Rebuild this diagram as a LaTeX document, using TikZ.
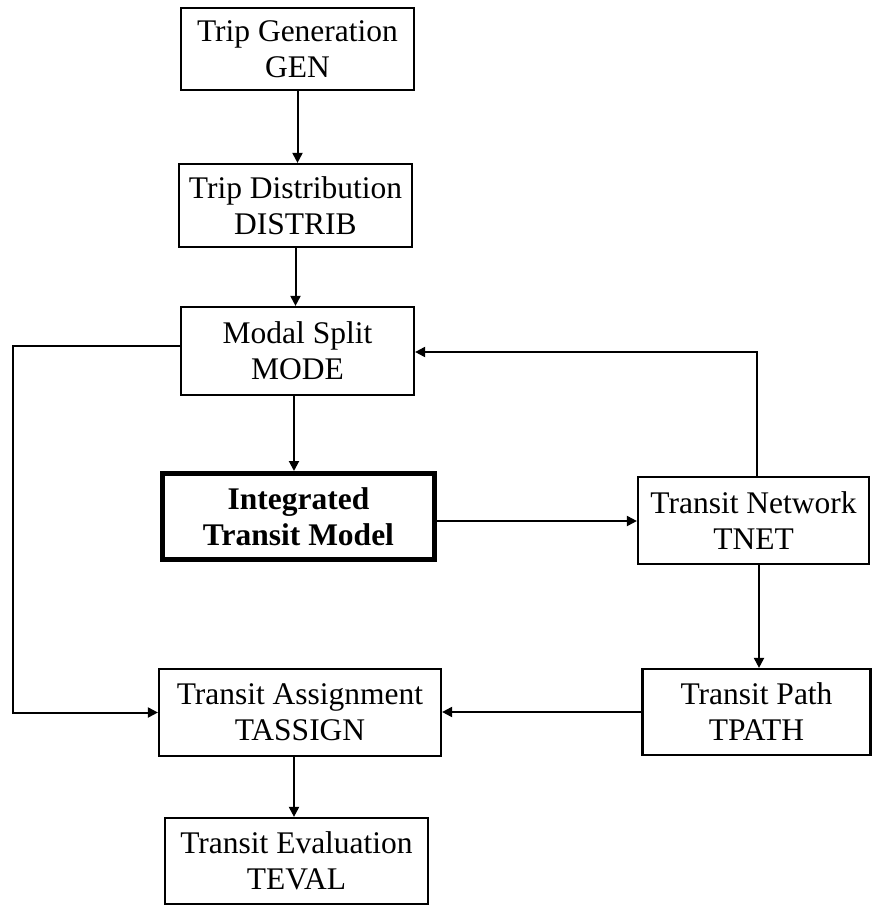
\documentclass[tikz,border=0pt]{standalone}
\usepackage{fontspec}
\setmainfont{Liberation Serif}
\usetikzlibrary{arrows.meta}
\begin{document}
\begin{tikzpicture}[x=1pt,y=1pt,
  box/.style={draw, line width=2.2pt, inner sep=0pt, align=center,
    font=\fontsize{31.5}{36}\selectfont},
  thickbox/.style={box, line width=5pt, font=\fontsize{31.5}{36}\selectfont\bfseries},
  arr/.style={line width=2pt, -{Triangle[length=10pt,width=10pt]}}]
\useasboundingbox (0,0) rectangle (872,-906);
\node[box, minimum width=233pt, minimum height=82pt] (gen) at (297.5,-49) {Trip Generation\\GEN};
\node[box, minimum width=233pt, minimum height=83pt] (dist) at (295.5,-205.5) {Trip Distribution\\DISTRIB};
\node[box, minimum width=233pt, minimum height=88pt] (mode) at (297.5,-351) {Modal Split\\MODE};
\node[thickbox, minimum width=272pt, minimum height=86pt] (itm) at (298.5,-516.5) {Integrated\\Transit Model};
\node[box, minimum width=231pt, minimum height=87pt] (tnet) at (753.5,-520.5) {Transit Network\\TNET};
\node[box, minimum width=282pt, minimum height=87pt] (tassign) at (300,-712.5) {Transit Assignment\\TASSIGN};
\node[box, minimum width=228pt, minimum height=86pt] (tpath) at (756.5,-712) {Transit Path\\TPATH};
\node[box, minimum width=263pt, minimum height=86pt] (teval) at (296.5,-861) {Transit Evaluation\\TEVAL};
\coordinate (lft) at (13,-346);
\draw[arr] (gen.south) -- (gen.south |- dist.north);
\draw[arr] (dist.south) -- (dist.south |- mode.north);
\draw[arr] ([xshift=-3.5pt]mode.south) -- ([xshift=-3.5pt]mode.south |- itm.north);
\draw[arr] (itm.east |- 0,-521) -- (tnet.west |- 0,-521);
\draw[arr] ([xshift=3.5pt]tnet.north) |- ([yshift=-1pt]mode.east);
\draw[arr] ([xshift=5.5pt]tnet.south) -- ([xshift=5.5pt]tnet.south |- tpath.north);
\draw[arr] (tpath.west) -- (tpath.west -| tassign.east);
\draw[arr] ([yshift=5pt]mode.west) -- (lft) |- (tassign.west);
\draw[arr] ([xshift=-6pt]tassign.south) -- ([xshift=-6pt]tassign.south |- teval.north);
\end{tikzpicture}
\end{document}
